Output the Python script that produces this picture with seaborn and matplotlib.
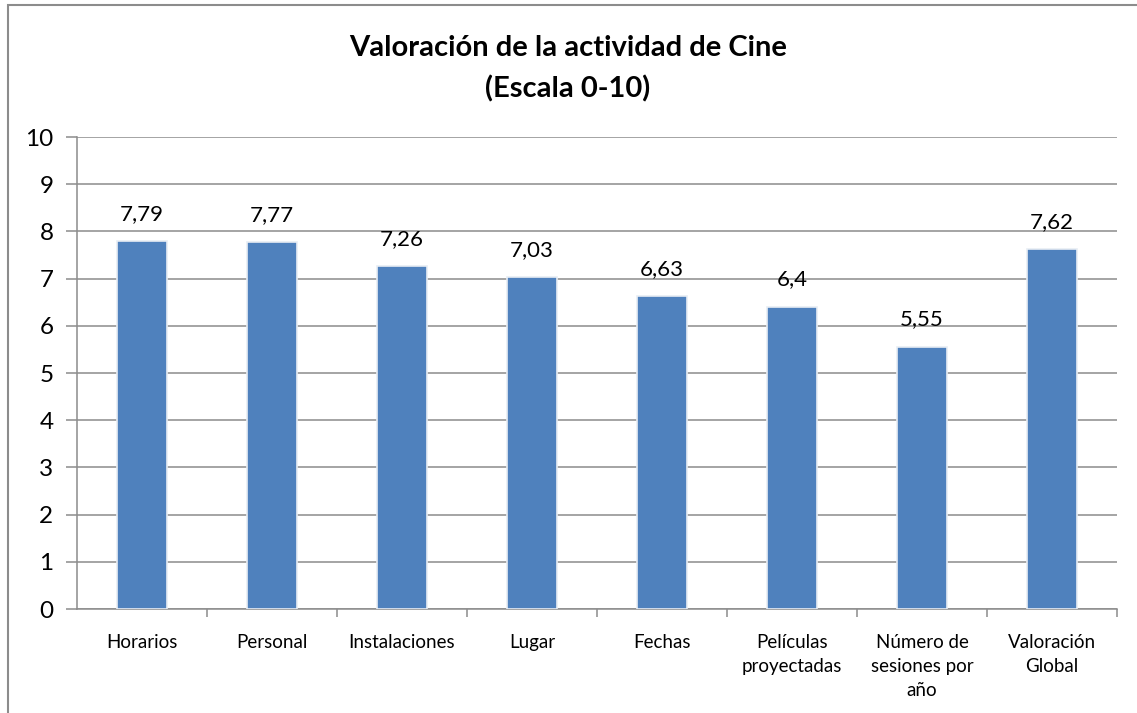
import matplotlib
matplotlib.use("Agg")
import matplotlib.pyplot as plt
import seaborn as sns
import pandas as pd
from matplotlib.patches import Rectangle

categories = ["Horarios", "Personal", "Instalaciones", "Lugar", "Fechas",
              "Películas\nproyectadas", "Número de\nsesiones por\naño", "Valoración\nGlobal"]
values = [7.79, 7.77, 7.26, 7.03, 6.63, 6.4, 5.55, 7.62]
value_labels = ["7,79", "7,77", "7,26", "7,03", "6,63", "6,4", "5,55", "7,62"]
yticks = list(range(0, 11))

sns.set_theme(style="white")
plt.rcParams['font.family'] = ['Lato', 'DejaVu Sans']
plt.rcParams['text.color'] = 'black'
plt.rcParams['xtick.labelcolor'] = 'black'
plt.rcParams['ytick.labelcolor'] = 'black'

df = pd.DataFrame({"cat": categories, "val": values})

fig = plt.figure(figsize=(11.37, 7.13), dpi=100)
ax = fig.add_axes([77/1137, 1 - 609/713, (1117 - 77)/1137, (609 - 137)/713])

sns.barplot(data=df, x="cat", y="val", ax=ax, color="#4F81BD", saturation=1,
            width=0.385, edgecolor="#E8EDF4", linewidth=1.2, zorder=3)

ax.set_ylim(0, 10)
ax.set_xlim(-0.5, len(categories) - 0.5)
ax.set_yticks(yticks)
ax.set_yticklabels([str(t) for t in yticks], fontsize=17.5)
ax.yaxis.grid(True, color="#8C8C8C", linewidth=1.1, zorder=0)
ax.set_axisbelow(True)
ax.set_xlabel("")
ax.set_ylabel("")

for s in ["top", "right"]:
    ax.spines[s].set_visible(False)
for s in ["left", "bottom"]:
    ax.spines[s].set_color("#8C8C8C")
    ax.spines[s].set_linewidth(1.1)

ax.tick_params(axis="y", which="both", left=True, length=8, width=1.1, color="#8C8C8C", pad=9)
ax.set_xticks(range(len(categories)))
ax.set_xticklabels(categories, fontsize=13.5, linespacing=1.5, va="top")
ax.tick_params(axis="x", which="major", bottom=False, pad=12)
ax.set_xticks([i + 0.5 for i in range(len(categories))], minor=True)
ax.tick_params(axis="x", which="minor", bottom=True, length=6, width=1.1, color="#8C8C8C")

for i, (v, lab) in enumerate(zip(values, value_labels)):
    ax.text(i, v + 0.37, lab, ha="center", va="bottom", fontsize=16, color="black")

fig.text(568/1137, 1 - 48/713, "Valoración de la actividad de Cine", ha="center", va="center",
         fontsize=21, fontweight="bold", color="black")
fig.text(568/1137, 1 - 89/713, "(Escala 0-10)", ha="center", va="center",
         fontsize=21, fontweight="bold", color="black")

fig.patches.append(Rectangle((7.5/1137, -0.1), 1.2, 1 - 5.5/713 + 0.1,
                             transform=fig.transFigure, fill=False,
                             edgecolor="#8C8C8C", linewidth=1.5))

fig.savefig("out.png", dpi=100, facecolor="white")
